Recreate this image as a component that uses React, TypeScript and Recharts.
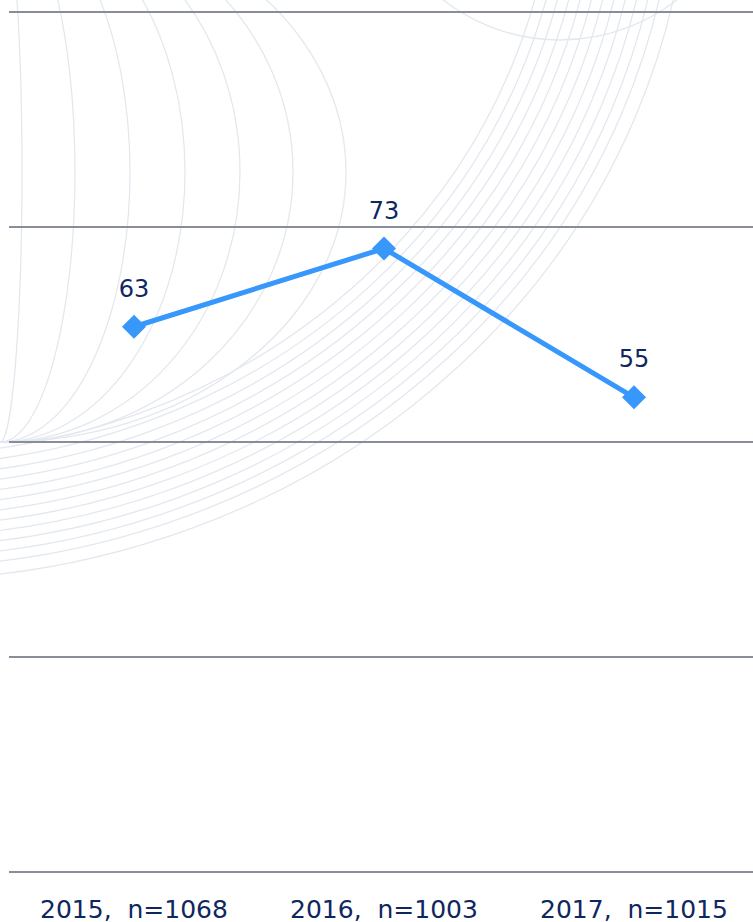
import { LineChart, Line, XAxis, YAxis, CartesianGrid, LabelList } from 'recharts';

const categories = ['2015,\u00a0 n=1068', '2016,\u00a0 n=1003', '2017,\u00a0 n=1015'];
const shareValues = [63.4, 72.5, 55.2];
const yTicks = [0, 25, 50, 75, 100];

const chartData = categories.map((name, i) => ({ name, value: shareValues[i] }));

const LINE_COLOR = '#3797fb';
const TEXT_COLOR = '#0f2760';

// faint globe-like watermark behind the chart
function Watermark() {
  const longitudes = [22, 75, 130, 185, 240, 293, 346];
  const sweep = [655, 666, 677, 688, 699, 710, 721, 732, 743, 754, 765, 776, 790];
  return (
    <svg width={753} height={922} style={{ position: 'absolute', left: 0, top: 0 }}>
      <g fill="none" stroke="#e3e8ef" strokeWidth={1.3}>
        {longitudes.map((rx) => (
          <ellipse key={'l' + rx} cx={0} cy={172} rx={rx} ry={270} />
        ))}
        {sweep.map((rx) => (
          <ellipse key={'s' + rx} cx={-100} cy={-150} rx={rx} ry={rx * 0.924} />
        ))}
        <circle cx={560} cy={-150} r={190} />
      </g>
    </svg>
  );
}

function Diamond(props: any) {
  const { cx, cy } = props;
  if (cx == null || cy == null) return null;
  const s = 12;
  return (
    <polygon
      points={`${cx},${cy - s} ${cx + s},${cy} ${cx},${cy + s} ${cx - s},${cy}`}
      fill={LINE_COLOR}
    />
  );
}

function CategoryTick(props: any) {
  const { x, y, payload } = props;
  return (
    <text
      x={x}
      y={y}
      dy={18}
      textAnchor="middle"
      fill={TEXT_COLOR}
      fontSize={25}
      fontFamily="'DejaVu Sans', Verdana, sans-serif"
      style={{ whiteSpace: 'pre' }}
    >
      {payload.value}
    </text>
  );
}

export default function App() {
  return (
    <div
      style={{
        position: 'absolute',
        left: 0,
        top: 0,
        width: 753,
        height: 922,
        overflow: 'hidden',
        background: '#ffffff',
        fontFamily: "'DejaVu Sans', Verdana, sans-serif",
      }}
    >
      <Watermark />
      <div style={{ position: 'absolute', left: 0, top: 0 }}>
        <LineChart
          width={760}
          height={922}
          data={chartData}
          margin={{ top: 12, right: 1, left: 9, bottom: 0 }}
        >
          <CartesianGrid vertical={false} stroke="#898c9b" strokeWidth={2} />
          <XAxis
            dataKey="name"
            axisLine={false}
            tickLine={false}
            tickSize={0}
            tickMargin={28}
            height={50}
            interval={0}
            padding={{ left: 125, right: 125 }}
            tick={<CategoryTick />}
          />
          <YAxis hide domain={[0, 100]} ticks={yTicks} />
          <Line
            type="linear"
            dataKey="value"
            stroke={LINE_COLOR}
            strokeWidth={5}
            dot={<Diamond />}
            activeDot={false}
            isAnimationActive={false}
          >
            <LabelList
              dataKey="value"
              position="top"
              offset={30}
              fill={TEXT_COLOR}
              fontSize={24}
              formatter={(v: any) => Math.round(Number(v))}
            />
          </Line>
        </LineChart>
      </div>
    </div>
  );
}
